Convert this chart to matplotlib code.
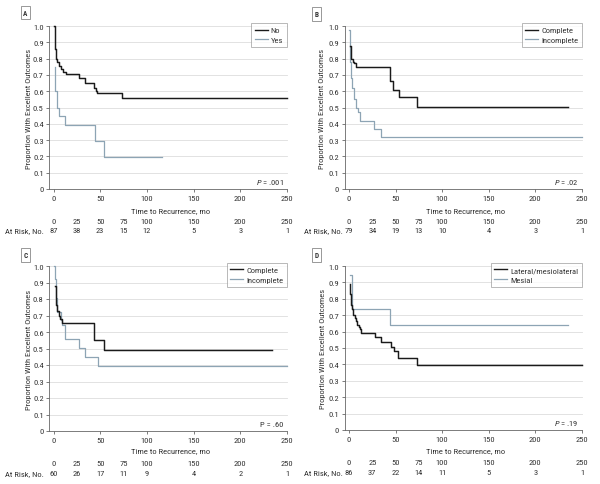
import matplotlib
matplotlib.use("Agg")
import matplotlib.pyplot as plt
import matplotlib.transforms as mtransforms
from matplotlib import font_manager
from matplotlib.lines import Line2D

avail = {f.name for f in font_manager.fontManager.ttflist}
fam = None
for cand in ["Liberation Sans Narrow", "Roboto Condensed", "Open Sans", "Liberation Sans", "DejaVu Sans"]:
    if cand in avail:
        fam = cand
        break
plt.rcParams["font.family"] = [fam, "DejaVu Sans"]
plt.rcParams["mathtext.fontset"] = "custom"
plt.rcParams["mathtext.it"] = fam + ":italic"
plt.rcParams["mathtext.rm"] = fam

# ---------------- data ----------------
risk_times = [0, 25, 50, 75, 100, 150, 200, 250]

# Panel A
a_labels = ["No", "Yes"]
a_no_t = [1, 1.5, 2, 2.5, 3, 4, 6, 8, 10, 13, 27.5, 34, 43.6, 45.5, 47, 73.3, 250]
a_no_v = [1.0, 0.93, 0.86, 0.81, 0.80, 0.777, 0.757, 0.736, 0.72, 0.706, 0.679, 0.65, 0.62, 0.60, 0.59, 0.556, 0.556]
a_yes_t = [1.2, 1.5, 3.5, 5.5, 12.5, 44.7, 54.4, 116]
a_yes_v = [0.75, 0.60, 0.50, 0.445, 0.393, 0.293, 0.196, 0.196]
a_risk = [87, 38, 23, 15, 12, 5, 3, 1]
a_p = ".001"

# Panel B
b_labels = ["Complete", "Incomplete"]
b_comp_t = [1, 1.7, 2.5, 4, 5.5, 7, 44, 46.7, 54, 73.3, 235]
b_comp_v = [0.875, 0.81, 0.80, 0.78, 0.77, 0.75, 0.663, 0.61, 0.565, 0.505, 0.505]
b_inc_t = [0.5, 1.4, 2.5, 3.6, 5, 8, 10, 12, 26.5, 34, 250]
b_inc_v = [0.975, 0.78, 0.68, 0.62, 0.55, 0.50, 0.47, 0.415, 0.37, 0.318, 0.318]
b_risk = [79, 34, 19, 13, 10, 4, 3, 1]
b_p = ".02"

# Panel C
c_labels = ["Complete", "Incomplete"]
c_comp_t = [1.4, 2.2, 3, 4, 5.5, 7, 9, 43.6, 54.4, 234]
c_comp_v = [0.877, 0.80, 0.766, 0.726, 0.70, 0.68, 0.655, 0.55, 0.489, 0.489]
c_inc_t = [0.5, 2, 2.8, 3.5, 8, 9.5, 12.5, 27.5, 34, 47.2, 250]
c_inc_v = [1.0, 0.92, 0.806, 0.72, 0.67, 0.645, 0.557, 0.503, 0.447, 0.392, 0.392]
c_risk = [60, 26, 17, 11, 9, 4, 2, 1]
c_p = ".60"

# Panel D
d_labels = ["Lateral/mesiolateral", "Mesial"]
d_lat_t = [1, 1.5, 2.5, 3.2, 4.5, 6, 7.5, 9, 10.5, 12, 13.3, 27.7, 34.2, 45.6, 47.8, 53, 73.3, 250]
d_lat_v = [0.89, 0.83, 0.765, 0.735, 0.704, 0.684, 0.663, 0.643, 0.629, 0.613, 0.592, 0.566, 0.537, 0.505, 0.48, 0.44, 0.398, 0.398]
d_mes_t = [1, 2.9, 44, 235]
d_mes_v = [0.945, 0.735, 0.643, 0.643]
d_risk = [86, 37, 22, 14, 11, 5, 3, 1]
d_p = ".19"

# ---------------- layout ----------------
W, H = 600, 485
fig = plt.figure(figsize=(6.0, 4.85), dpi=100)

BLACK = "#1a1a1a"
GRAY = "#8da4b4"
GRID = "#dddddd"
AX = "#666666"
TXT = "#333333"
FS = 6.1

def fy(py):
    return (H - py) / H

def fx(px):
    return px / W

panels = [
    dict(letter="A", left=49.3, right=287, top=27, bot=190,
         series=[(a_no_t, a_no_v), (a_yes_t, a_yes_v)], labels=a_labels, risk=a_risk,
         p=a_p, pit=True, lab_xy=(25.3, 13.5), ylab_x=29.5, xlab_y=211, r1=221.7, r2=231, atx=43.5),
    dict(letter="B", left=344.8, right=582, top=27, bot=190,
         series=[(b_comp_t, b_comp_v), (b_inc_t, b_inc_v)], labels=b_labels, risk=b_risk,
         p=b_p, pit=True, lab_xy=(316.7, 15), ylab_x=322, xlab_y=211, r1=221.5, r2=231, atx=343),
    dict(letter="C", left=49.3, right=287, top=267, bot=432,
         series=[(c_comp_t, c_comp_v), (c_inc_t, c_inc_v)], labels=c_labels, risk=c_risk,
         p=c_p, pit=False, lab_xy=(25.3, 256), ylab_x=29.5, xlab_y=451, r1=464, r2=474, atx=43.5),
    dict(letter="D", left=344.8, right=582, top=267, bot=431,
         series=[(d_lat_t, d_lat_v), (d_mes_t, d_mes_v)], labels=d_labels, risk=d_risk,
         p=d_p, pit=True, lab_xy=(316.5, 256), ylab_x=322.5, xlab_y=451, r1=463.5, r2=473.5, atx=343),
]

for pn in panels:
    ax = fig.add_axes([fx(pn["left"]), fy(pn["bot"]), fx(pn["right"] - pn["left"]),
                       (pn["bot"] - pn["top"]) / H])
    ax.set_xlim(-4.5, 250)
    ax.set_ylim(0, 1.0)
    for s in ["top", "right"]:
        ax.spines[s].set_visible(False)
    for s in ["left", "bottom"]:
        ax.spines[s].set_color(AX)
        ax.spines[s].set_linewidth(0.6)
    ax.set_yticks([i / 10 for i in range(11)])
    ax.set_yticklabels(["0"] + ["%.1f" % (i / 10) for i in range(1, 11)])
    ax.set_xticks([0, 50, 100, 150, 200, 250])
    ax.tick_params(axis="both", direction="out", length=2.5, width=0.6, color=AX,
                   labelsize=FS, labelcolor=TXT, pad=1.5)
    for yv in [i / 10 for i in range(1, 11)]:
        ax.axhline(yv, color=GRID, lw=0.6, zorder=0, clip_on=False)

    (t1, v1), (t2, v2) = pn["series"]
    ax.step(t2, v2, where="post", color=GRAY, lw=0.9, zorder=2, clip_on=False)
    ax.step(t1, v1, where="post", color=BLACK, lw=1.05, zorder=3, clip_on=False)

    handles = [Line2D([], [], color=BLACK, lw=1.0), Line2D([], [], color=GRAY, lw=0.9)]
    leg = ax.legend(handles, pn["labels"], loc="upper right", fontsize=FS,
                    frameon=True, fancybox=False, borderaxespad=0.0,
                    handlelength=1.5, handletextpad=0.35, borderpad=0.45,
                    labelspacing=0.3, bbox_to_anchor=(1.0, 1.02))
    leg.get_frame().set_edgecolor("#999999")
    leg.get_frame().set_linewidth(0.6)
    for t in leg.get_texts():
        t.set_color(TXT)

    ptxt = r"$\it{P}$ = " + pn["p"] if pn["pit"] else "P = " + pn["p"]
    ax.text(246.5, 0.045, ptxt, ha="right", va="center", fontsize=FS, color=TXT)

    # labels
    fig.text(fx(pn["ylab_x"]), fy((pn["top"] + pn["bot"]) / 2), "Proportion With Excellent Outcomes",
             rotation=90, ha="center", va="center", fontsize=FS, color=TXT)
    fig.text(fx((pn["left"] + 4.5 * (pn["right"] - pn["left"]) / 254.5 + pn["right"]) / 2), fy(pn["xlab_y"]),
             "Time to Recurrence, mo", ha="center", va="center", fontsize=FS, color=TXT)
    fig.text(fx(pn["lab_xy"][0]), fy(pn["lab_xy"][1]), pn["letter"], ha="center", va="center",
             fontsize=5.2, color=TXT, fontweight="bold",
             bbox=dict(boxstyle="square,pad=0.35", fc="white", ec="#888888", lw=0.6))

    # at-risk table
    tr = mtransforms.blended_transform_factory(ax.transData, fig.transFigure)
    for tt, n in zip(risk_times, pn["risk"]):
        ax.text(tt, fy(pn["r1"]), str(tt), transform=tr, ha="center", va="center",
                fontsize=FS, color=TXT, clip_on=False)
        ax.text(tt, fy(pn["r2"]), str(n), transform=tr, ha="center", va="center",
                fontsize=FS, color=TXT, clip_on=False)
    fig.text(fx(pn["atx"]), fy(pn["r2"]), "At Risk, No.", ha="right", va="center",
             fontsize=FS, color=TXT)

fig.savefig("out.png", dpi=100, facecolor="white")
